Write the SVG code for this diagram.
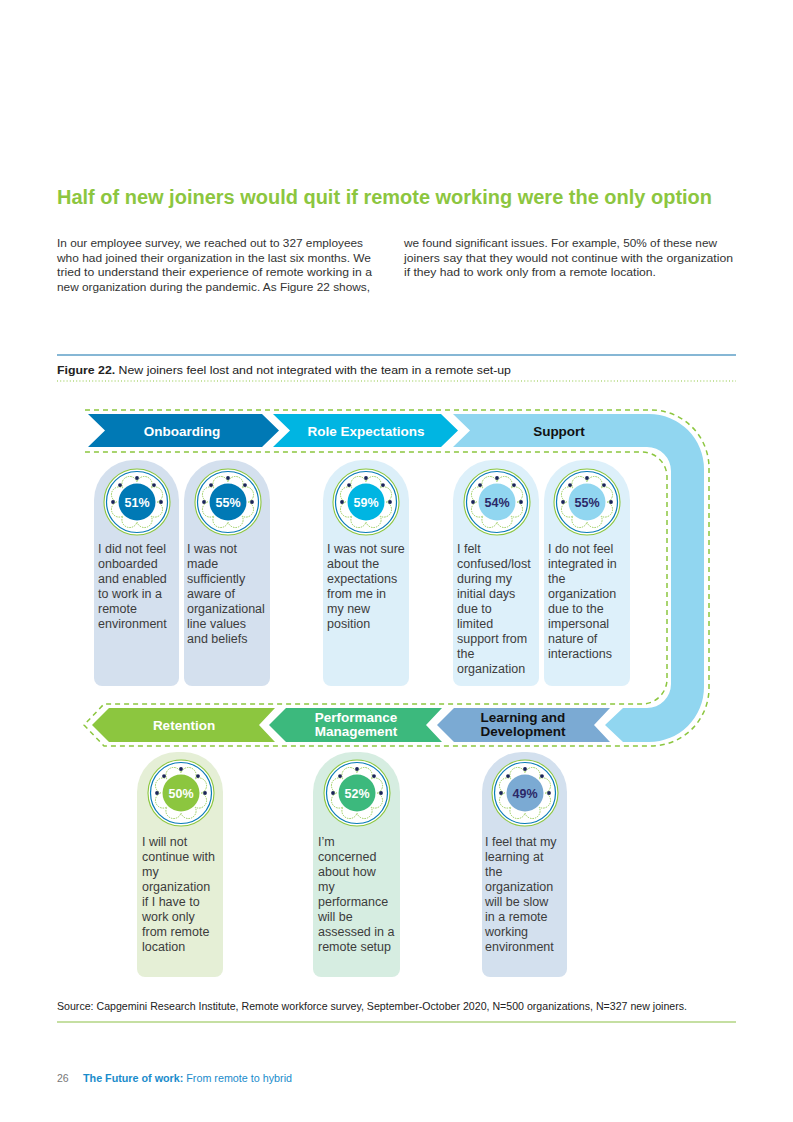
<svg xmlns="http://www.w3.org/2000/svg" xmlns:xlink="http://www.w3.org/1999/xlink" width="793" height="1122" viewBox="0 0 793 1122">
<style>
text{font-family:"Liberation Sans",Arial,sans-serif}
.title{font-size:20px;font-weight:bold;fill:#8CC63F}
.body{font-size:11px;fill:#333333}
.cap{font-size:11px;fill:#222222}
.lbl{font-size:13.5px;font-weight:bold;text-anchor:middle}
.w{fill:#ffffff}
.k{fill:#111111}
.ct{font-size:12.5px;fill:#3c3c3c}
.pct{font-size:12.5px;font-weight:bold;text-anchor:middle}
.pw{fill:#ffffff}
.pn{fill:#2b2868}
.dash{fill:none;stroke:#8CC63F;stroke-width:1.5;stroke-dasharray:5 4}
.src{font-size:10.5px;fill:#222222}
</style>
<defs>
<g id="badge">
<circle r="33" fill="#ffffff" stroke="#8CC63F" stroke-width="1.1"/>
<circle r="30.5" fill="none" stroke="#0A7AB8" stroke-width="1.2"/>
<path d="M20,0 A7.7,7.7 0 1 1 14.14,14.14 A7.7,7.7 0 1 1 0,20 A7.7,7.7 0 1 1 -14.14,14.14 A7.7,7.7 0 1 1 -20,0 A7.7,7.7 0 1 1 -14.14,-14.14 A7.7,7.7 0 1 1 0,-20 A7.7,7.7 0 1 1 14.14,-14.14 A7.7,7.7 0 1 1 20,0 Z" fill="none" stroke="#9ACD5A" stroke-width="1" stroke-dasharray="1.5 1"/>
<g fill="#1B2557">
<circle cx="24" cy="0" r="1.9"/>
<circle cx="-24" cy="0" r="1.9"/>
<circle cx="0" cy="-24" r="1.9"/>
<circle cx="16.97" cy="-16.97" r="1.9"/>
<circle cx="-16.97" cy="-16.97" r="1.9"/>
</g>
</g>
</defs>

<g id="header">
<text class="title" x="57" y="204" textLength="655" lengthAdjust="spacingAndGlyphs">Half of new joiners would quit if remote working were the only option</text>
<text class="body" x="57" y="247" textLength="306" lengthAdjust="spacingAndGlyphs">In our employee survey, we reached out to 327 employees</text>
<text class="body" x="57" y="262" textLength="314" lengthAdjust="spacingAndGlyphs">who had joined their organization in the last six months. We</text>
<text class="body" x="57" y="276" textLength="315" lengthAdjust="spacingAndGlyphs">tried to understand their experience of remote working in a</text>
<text class="body" x="57" y="291" textLength="313" lengthAdjust="spacingAndGlyphs">new organization during the pandemic. As Figure 22 shows,</text>
<text class="body" x="404" y="247" textLength="313" lengthAdjust="spacingAndGlyphs">we found significant issues. For example, 50% of these new</text>
<text class="body" x="404" y="262" textLength="329" lengthAdjust="spacingAndGlyphs">joiners say that they would not continue with the organization</text>
<text class="body" x="404" y="276" textLength="252" lengthAdjust="spacingAndGlyphs">if they had to work only from a remote location.</text>
<line x1="57" y1="355" x2="736" y2="355" stroke="#5E9FC7" stroke-width="1.5"/>
<text class="cap" x="57" y="374" textLength="454" lengthAdjust="spacingAndGlyphs"><tspan font-weight="bold">Figure 22.</tspan> New joiners feel lost and not integrated with the team in a remote set-up</text>
<line x1="57" y1="381" x2="736" y2="381" stroke="#8CC63F" stroke-width="1.2" stroke-dasharray="1 2.2"/>
</g>

<g id="connectors">
<path class="dash" d="M85,410 L651,410 A58,58 0 0 1 709,468 L709,688 A58,58 0 0 1 651,746 L104,746 L84,725 L104,704 L642,704 A25,25 0 0 0 667,679 L667,477 A25,25 0 0 0 642,452 L85,452"/>
</g>

<g id="stage-onboarding">
<path d="M88,414 L262,414 L279,430.5 L262,447 L88,447 L105,430.5 Z" fill="#0079B5"/>
<text class="lbl w" x="182" y="435.5">Onboarding</text>
</g>
<g id="stage-role">
<path d="M273,414 L441,414 L458,430.5 L441,447 L273,447 L290,430.5 Z" fill="#00B5E2"/>
<text class="lbl w" x="366" y="435.5">Role Expectations</text>
</g>
<g id="stage-support">
<path d="M453,414 L649,414 A55,55 0 0 1 704,469 L704,687 A55,55 0 0 1 649,742 L623,742 L605,725 L623,708 L647,708 A24,24 0 0 0 671,684 L671,471 A24,24 0 0 0 647,447 L453,447 L470,430.5 Z" fill="#91D6F0"/>
<text class="lbl k" x="559" y="435.5">Support</text>
</g>
<g id="stage-learning">
<path d="M437,725 L454,708 L610,708 L594,725 L610,742 L454,742 Z" fill="#7BAAD3"/>
<text class="lbl k" x="523" y="722">Learning and</text>
<text class="lbl k" x="523" y="736">Development</text>
</g>
<g id="stage-performance">
<path d="M269,725 L286,708 L442,708 L426,725 L442,742 L286,742 Z" fill="#3CB97D"/>
<text class="lbl w" x="356" y="722">Performance</text>
<text class="lbl w" x="356" y="736">Management</text>
</g>
<g id="stage-retention">
<path d="M92,725 L109,708 L275,708 L259,725 L275,742 L109,742 Z" fill="#8CC63F"/>
<text class="lbl w" x="184" y="729.5">Retention</text>
</g>

<g id="card-51">
<path d="M94,500 A40,40 0 0 1 134,460 L139,460 A40,40 0 0 1 179,500 L179,678 A8,8 0 0 1 171,686 L102,686 A8,8 0 0 1 94,678 Z" fill="#D4E0EE"/>
<use xlink:href="#badge" href="#badge" x="137" y="502"/>
<circle cx="137" cy="502" r="18.5" fill="#0079B5"/>
<text class="pct pw" x="137" y="506.5">51%</text>
<text class="ct" x="98" y="553"><tspan x="98">I did not feel</tspan><tspan x="98" dy="15">onboarded</tspan><tspan x="98" dy="15">and enabled</tspan><tspan x="98" dy="15">to work in a</tspan><tspan x="98" dy="15">remote</tspan><tspan x="98" dy="15">environment</tspan></text>
</g>
<g id="card-55a">
<path d="M184,500 A40,40 0 0 1 224,460 L230,460 A40,40 0 0 1 270,500 L270,678 A8,8 0 0 1 262,686 L192,686 A8,8 0 0 1 184,678 Z" fill="#D4E0EE"/>
<use xlink:href="#badge" href="#badge" x="228" y="502"/>
<circle cx="228" cy="502" r="18.5" fill="#0079B5"/>
<text class="pct pw" x="228" y="506.5">55%</text>
<text class="ct" x="187" y="553"><tspan x="187">I was not</tspan><tspan x="187" dy="15">made</tspan><tspan x="187" dy="15">sufficiently</tspan><tspan x="187" dy="15">aware of</tspan><tspan x="187" dy="15">organizational</tspan><tspan x="187" dy="15">line values</tspan><tspan x="187" dy="15">and beliefs</tspan></text>
</g>
<g id="card-59">
<path d="M323,500 A40,40 0 0 1 363,460 L369,460 A40,40 0 0 1 409,500 L409,678 A8,8 0 0 1 401,686 L331,686 A8,8 0 0 1 323,678 Z" fill="#DCEFF9"/>
<use xlink:href="#badge" href="#badge" x="366" y="502"/>
<circle cx="366" cy="502" r="18.5" fill="#00B5E2"/>
<text class="pct pw" x="366" y="506.5">59%</text>
<text class="ct" x="327" y="553"><tspan x="327">I was not sure</tspan><tspan x="327" dy="15">about the</tspan><tspan x="327" dy="15">expectations</tspan><tspan x="327" dy="15">from me in</tspan><tspan x="327" dy="15">my new</tspan><tspan x="327" dy="15">position</tspan></text>
</g>
<g id="card-54">
<path d="M453,500 A40,40 0 0 1 493,460 L499,460 A40,40 0 0 1 539,500 L539,678 A8,8 0 0 1 531,686 L461,686 A8,8 0 0 1 453,678 Z" fill="#DDF0FA"/>
<use xlink:href="#badge" href="#badge" x="497" y="502"/>
<circle cx="497" cy="502" r="18.5" fill="#91D6F0"/>
<text class="pct pn" x="497" y="506.5">54%</text>
<text class="ct" x="457" y="553"><tspan x="457">I felt</tspan><tspan x="457" dy="15">confused/lost</tspan><tspan x="457" dy="15">during my</tspan><tspan x="457" dy="15">initial days</tspan><tspan x="457" dy="15">due to</tspan><tspan x="457" dy="15">limited</tspan><tspan x="457" dy="15">support from</tspan><tspan x="457" dy="15">the</tspan><tspan x="457" dy="15">organization</tspan></text>
</g>
<g id="card-55b">
<path d="M544,500 A40,40 0 0 1 584,460 L590,460 A40,40 0 0 1 630,500 L630,678 A8,8 0 0 1 622,686 L552,686 A8,8 0 0 1 544,678 Z" fill="#DDF0FA"/>
<use xlink:href="#badge" href="#badge" x="587" y="502"/>
<circle cx="587" cy="502" r="18.5" fill="#91D6F0"/>
<text class="pct pn" x="587" y="506.5">55%</text>
<text class="ct" x="548" y="553"><tspan x="548">I do not feel</tspan><tspan x="548" dy="15">integrated in</tspan><tspan x="548" dy="15">the</tspan><tspan x="548" dy="15">organization</tspan><tspan x="548" dy="15">due to the</tspan><tspan x="548" dy="15">impersonal</tspan><tspan x="548" dy="15">nature of</tspan><tspan x="548" dy="15">interactions</tspan></text>
</g>

<g id="card-50">
<path d="M137,792 A40,40 0 0 1 177,752 L183,752 A40,40 0 0 1 223,792 L223,969 A8,8 0 0 1 215,977 L145,977 A8,8 0 0 1 137,969 Z" fill="#E5EFD6"/>
<use xlink:href="#badge" href="#badge" x="181" y="793"/>
<circle cx="181" cy="793" r="18.5" fill="#8CC63F"/>
<text class="pct pw" x="181" y="797.5">50%</text>
<text class="ct" x="142" y="846"><tspan x="142">I will not</tspan><tspan x="142" dy="15">continue with</tspan><tspan x="142" dy="15">my</tspan><tspan x="142" dy="15">organization</tspan><tspan x="142" dy="15">if I have to</tspan><tspan x="142" dy="15">work only</tspan><tspan x="142" dy="15">from remote</tspan><tspan x="142" dy="15">location</tspan></text>
</g>
<g id="card-52">
<path d="M313,792 A40,40 0 0 1 353,752 L360,752 A40,40 0 0 1 400,792 L400,969 A8,8 0 0 1 392,977 L321,977 A8,8 0 0 1 313,969 Z" fill="#D6EDE1"/>
<use xlink:href="#badge" href="#badge" x="357" y="793"/>
<circle cx="357" cy="793" r="18.5" fill="#3CB97D"/>
<text class="pct pw" x="357" y="797.5">52%</text>
<text class="ct" x="318" y="846"><tspan x="318">I’m</tspan><tspan x="318" dy="15">concerned</tspan><tspan x="318" dy="15">about how</tspan><tspan x="318" dy="15">my</tspan><tspan x="318" dy="15">performance</tspan><tspan x="318" dy="15">will be</tspan><tspan x="318" dy="15">assessed in a</tspan><tspan x="318" dy="15">remote setup</tspan></text>
</g>
<g id="card-49">
<path d="M482,792 A40,40 0 0 1 522,752 L527,752 A40,40 0 0 1 567,792 L567,969 A8,8 0 0 1 559,977 L490,977 A8,8 0 0 1 482,969 Z" fill="#D3E0EE"/>
<use xlink:href="#badge" href="#badge" x="525" y="793"/>
<circle cx="525" cy="793" r="18.5" fill="#7BAAD3"/>
<text class="pct pn" x="525" y="797.5">49%</text>
<text class="ct" x="485" y="846"><tspan x="485">I feel that my</tspan><tspan x="485" dy="15">learning at</tspan><tspan x="485" dy="15">the</tspan><tspan x="485" dy="15">organization</tspan><tspan x="485" dy="15">will be slow</tspan><tspan x="485" dy="15">in a remote</tspan><tspan x="485" dy="15">working</tspan><tspan x="485" dy="15">environment</tspan></text>
</g>

<g id="footer">
<text class="src" x="57" y="1010" textLength="630" lengthAdjust="spacingAndGlyphs">Source: Capgemini Research Institute, Remote workforce survey, September-October 2020, N=500 organizations, N=327 new joiners.</text>
<line x1="57" y1="1022" x2="736" y2="1022" stroke="#C5DFA2" stroke-width="2"/>
<text x="57" y="1082" font-size="10.5" fill="#777777">26</text>
<text x="83" y="1082" font-size="10.5" fill="#1A8CCB" textLength="209" lengthAdjust="spacingAndGlyphs"><tspan font-weight="bold">The Future of work:</tspan> From remote to hybrid</text>
</g>
</svg>
